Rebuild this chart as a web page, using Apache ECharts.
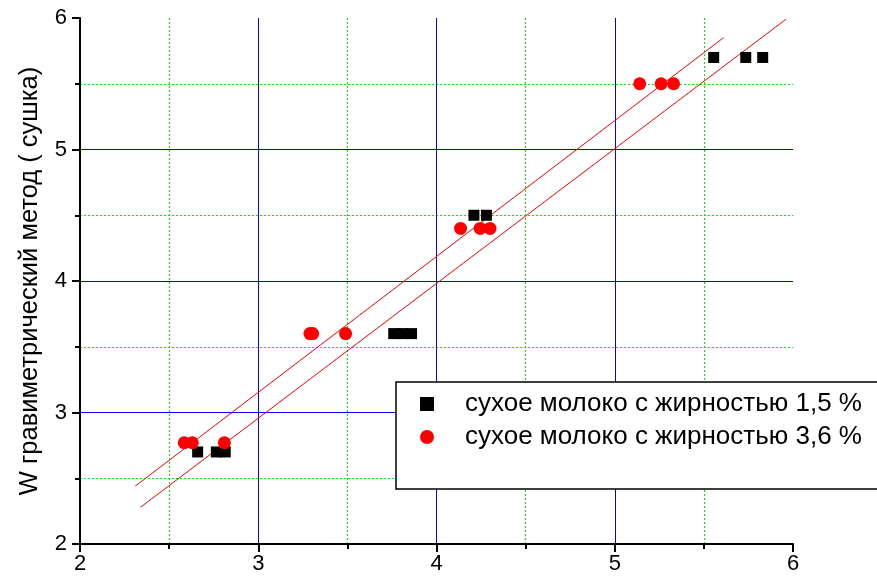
<!DOCTYPE html>
<html>
<head>
<meta charset="utf-8">
<script src="https://cdn.jsdelivr.net/npm/echarts@6/dist/echarts.min.js"></script>
<style>
  html, body { margin: 0; padding: 0; background: #fff; }
  #chart { width: 877px; height: 582px; }
</style>
</head>
<body>
<div id="chart"></div>
<script>
// Dry milk, 1.5 % fat: instrument reading (x) vs gravimetric drying (y)
const milk15X = [2.66, 2.765, 2.815, 3.76, 3.81, 3.86, 4.21, 4.28, 5.555, 5.735, 5.83];
const milk15Y = [2.70, 2.70, 2.70, 3.60, 3.60, 3.60, 4.50, 4.50, 5.70, 5.70, 5.70];

// Dry milk, 3.6 % fat
const milk36X = [2.585, 2.63, 2.81, 3.29, 3.305, 3.49, 4.135, 4.245, 4.30, 5.14, 5.26, 5.33];
const milk36Y = [2.77, 2.77, 2.77, 3.60, 3.60, 3.60, 4.40, 4.40, 4.40, 5.50, 5.50, 5.50];

// Fitted straight lines (end points)
const fitUpperX = [2.31, 5.61];
const fitUpperY = [2.44, 5.85];
const fitLowerX = [2.34, 5.96];
const fitLowerY = [2.28, 5.99];

const seriesNames = ['сухое молоко с жирностью 1,5 %', 'сухое молоко с жирностью 3,6 %'];
const yAxisTitle = 'W гравиметрический метод ( сушка)';
const axisMin = 2, axisMax = 6, axisStep = 1;

const pairs = (xs, ys) => xs.map((x, i) => [x, ys[i]]);

const FONT = 'Liberation Sans, Arial, sans-serif';

function valueAxis(extra) {
  return Object.assign({
    type: 'value',
    min: axisMin,
    max: axisMax,
    interval: axisStep,
    axisLine: { show: true, onZero: false, lineStyle: { color: '#000', width: 2 } },
    axisTick: { show: true, inside: false, length: 8, lineStyle: { color: '#000', width: 2 } },
    minorTick: { show: true, splitNumber: 2, length: 5, lineStyle: { color: '#000', width: 2 } },
    splitLine: {
      show: true, showMinLine: false, showMaxLine: false,
      lineStyle: { color: '#0000ff', width: 1, type: 'solid' }
    },
    minorSplitLine: {
      show: true,
      lineStyle: { color: '#00ee00', width: 1, type: [2, 2] }
    }
  }, extra);
}

const chart = echarts.init(document.getElementById('chart'), null, { renderer: 'canvas' });

chart.setOption({
  backgroundColor: '#fff',
  animation: false,
  grid: { left: 80, right: 84, top: 18, bottom: 38, containLabel: false },
  xAxis: valueAxis({
    axisLabel: { color: '#000', fontSize: 22, fontFamily: FONT, margin: 9 }
  }),
  yAxis: valueAxis({
    name: yAxisTitle,
    nameLocation: 'middle',
    nameGap: 37,
    nameTextStyle: { color: '#000', fontSize: 25.5, fontFamily: FONT },
    axisLabel: { color: '#000', fontSize: 22, fontFamily: FONT, margin: 13 }
  }),
  legend: {
    orient: 'vertical',
    left: 396,
    top: 382,
    padding: [8, 80, 38, 24],
    itemGap: 5,
    itemWidth: 14,
    itemHeight: 14,
    itemStyle: { borderWidth: 0 },
    textStyle: { color: '#000', fontSize: 26, fontFamily: FONT, padding: [0, 0, 0, 26], lineHeight: 28 },
    backgroundColor: '#fff',
    borderColor: '#000',
    borderWidth: 1.5,
    borderRadius: 0,
    data: [
      { name: seriesNames[0], icon: 'rect' },
      { name: seriesNames[1], icon: 'circle' }
    ],
    z: 10
  },
  series: [
    {
      type: 'line',
      data: pairs(fitUpperX, fitUpperY),
      showSymbol: false,
      lineStyle: { color: '#ff0000', width: 1 },
      silent: true,
      z: 2
    },
    {
      type: 'line',
      data: pairs(fitLowerX, fitLowerY),
      showSymbol: false,
      lineStyle: { color: '#ff0000', width: 1 },
      silent: true,
      z: 2
    },
    {
      name: seriesNames[0],
      type: 'scatter',
      symbol: 'rect',
      symbolSize: 11,
      itemStyle: { color: '#000', opacity: 1 },
      data: pairs(milk15X, milk15Y),
      z: 3
    },
    {
      name: seriesNames[1],
      type: 'scatter',
      symbol: 'circle',
      symbolSize: 13,
      itemStyle: { color: '#ff0000', opacity: 1 },
      data: pairs(milk36X, milk36Y),
      z: 3
    }
  ]
});
</script>
</body>
</html>
